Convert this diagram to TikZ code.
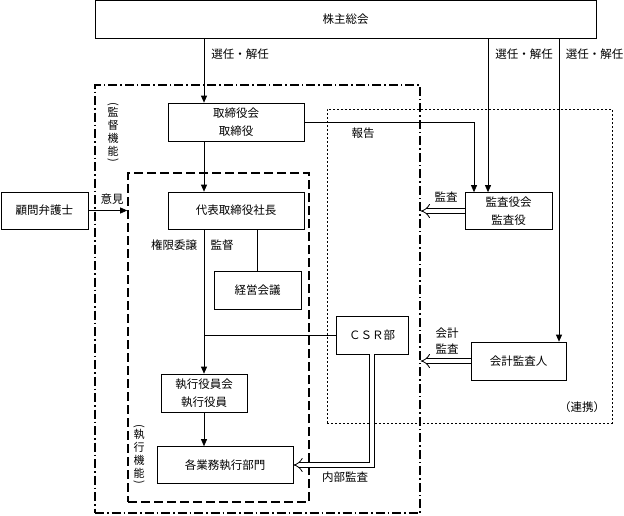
\documentclass[tikz,border=0pt]{standalone}
\usepackage{fontspec}
\usepackage{graphicx}
\setmainfont{Noto Sans CJK JP}
\usetikzlibrary{arrows.meta}
\usetikzlibrary{positioning}

\tikzset{
  box/.style={draw, fill=white, line width=0.7pt, inner sep=0pt, align=center,
    minimum height=38pt, font=\fontsize{11.5}{18}\selectfont},
  arr/.style={line width=0.7pt, -{Triangle[length=7pt,width=6pt]}},
  link/.style={line width=0.7pt},
  dbl/.style={double, double distance=4.2pt, line width=0.8pt, -{Implies}},
  lbl/.style={inner sep=0pt, align=center},
  vlbl/.style={inner sep=0pt, align=center, font=\fontsize{11}{13}\selectfont},
  kantokuline/.style={draw, line width=1.3pt, dash pattern=on 9pt off 3pt on 1.5pt off 3pt},
  shikkoline/.style={draw, line width=1.6pt, dash pattern=on 9pt off 4pt},
  renkeiline/.style={draw, line width=0.8pt, dash pattern=on 2pt off 2pt},
}
\newcommand{\vopen}{\rotatebox{-90}{(}}
\newcommand{\vclose}{\rotatebox{-90}{)}}

\begin{document}
\begin{tikzpicture}[x=1pt, y=-1pt, font=\fontsize{11.5}{15}\selectfont]
\useasboundingbox (0,0) rectangle (624,515);

% areas
\node[kantokuline, minimum width=325pt, minimum height=428pt] (kantokuarea) at (257.5,299) {};
\node[shikkoline, minimum width=181pt, minimum height=329pt] (shikkoarea) at (218.5,337.5) {};
\node[renkeiline, minimum width=285pt, minimum height=314pt] (renkeiarea) at (469.5,266) {};

% boxes
\node[box, minimum width=501pt] (soukai) at (345.5,19.5) {株主総会};
\node[box, minimum width=136pt] (torishimari) at (236,122) {取締役会\\取締役};
\node[box, minimum width=136pt, minimum height=37pt] (daihyo) at (236,210.5) {代表取締役社長};
\node[box, minimum width=87pt, minimum height=37pt] (komon) at (44.5,210.5) {顧問弁護士};
\node[box, minimum width=87pt, minimum height=37pt] (kansayaku) at (508.5,211) {監査役会\\監査役};
\node[box, minimum width=87pt] (keiei) at (257.5,290) {経営会議};
\node[box, minimum width=72pt] (csr) at (372,335) {ＣＳＲ部};
\node[box, minimum width=95pt] (kaikei) at (518.5,361) {会計監査人};
\node[box, minimum width=86pt] (shikko) at (204,393) {執行役員会\\執行役員};
\node[box, minimum width=136pt, minimum height=37pt] (kakugyomu) at (225,465) {各業務執行部門};

\coordinate (hokokuX) at (474,0);
\coordinate (kansaX) at (488,0);
\coordinate (kaikeiX) at (559,0);

% connectors
\draw[arr] (soukai.south -| shikko) -- (torishimari.north -| shikko);
\draw[arr] (torishimari.south -| shikko) -- (daihyo.north -| shikko);
\draw[arr] (daihyo.south -| shikko) -- (shikko.north);
\draw[arr] (shikko.south) -- (kakugyomu.north -| shikko);
\draw[link] (daihyo.south -| keiei) -- (keiei.north);
\draw[link] (csr.west) -- (csr.west -| shikko);
\draw[arr] (torishimari.east) -| (kansayaku.north -| hokokuX);
\draw[arr] (soukai.south -| kansaX) -- (kansayaku.north -| kansaX);
\draw[arr] (soukai.south -| kaikeiX) -- (kaikei.north -| kaikeiX);
\draw[arr] (komon.east) -- (komon.east -| shikkoarea.west);
\draw[dbl] (kansayaku.west) -- (kansayaku.west -| kantokuarea.east);
\draw[dbl] (kaikei.west) -- (kaikei.west -| kantokuarea.east);
\draw[dbl] (csr.south) |- (kakugyomu.east);

% labels
\node[lbl] (sennin1) at (240,54) {選任・解任};
\node[lbl] (sennin2) at (524,54) {選任・解任};
\node[lbl] (sennin3) at (594.5,54) {選任・解任};
\node[lbl] (hokoku) at (363,133) {報告};
\node[lbl] (iken) at (112,199) {意見};
\node[lbl] (kansa) at (446,197) {監査};
\node[lbl] (ijou) at (174,245) {権限委譲};
\node[lbl] (kantoku) at (222,245) {監督};
\node[lbl, font=\fontsize{11.5}{16}\selectfont] (kaikeikansa) at (447,341.5) {会計\\監査};
\node[lbl] (renkei) at (582,407) {（連携）};
\node[lbl] (naibu) at (345,477) {内部監査};
\node[vlbl] (kantokukino) at (113,132) {\vopen\\[1pt]監\\督\\機\\能\\[-10pt]\vclose};
\node[vlbl] (shikkokino) at (139,454) {\vopen\\[1pt]執\\行\\機\\能\\[-10pt]\vclose};
\end{tikzpicture}
\end{document}
